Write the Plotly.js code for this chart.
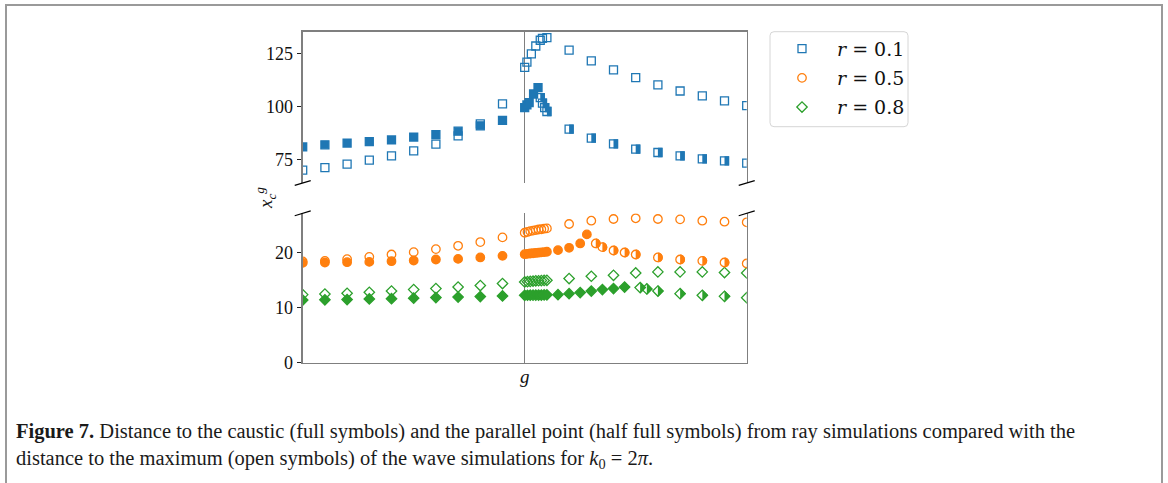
<!DOCTYPE html>
<html>
<head>
<meta charset="utf-8">
<script src="https://cdn.plot.ly/plotly-3.0.1.min.js"></script>
<style>
  html, body { margin: 0; padding: 0; background: #ffffff; }
  #chart { width: 1168px; height: 483px; }
</style>
</head>
<body>
<div id="chart"></div>
<script>
// ---- r = 0.1 (upper panel) ----
const waveX01   = [-10, -9, -8, -7, -6, -5, -4, -3, -2, -1, 0, 0.1, 0.3, 0.5, 0.7, 0.8, 1, 2, 3, 4, 5, 6, 7, 8, 9, 10];
const waveY01   = [70.2, 71.4, 73.0, 74.9, 76.9, 79.3, 82.4, 86.3, 91.9, 101.3, 118.4, 120.8, 124.7, 128.4, 131.1, 132.0, 132.3, 126.5, 121.4, 117.2, 113.6, 110.2, 107.3, 105.0, 102.7, 100.5];
const causticX01 = [-10, -9, -8, -7, -6, -5, -4, -3, -2, -1, 0, 0.1, 0.2, 0.4, 0.6];
const causticY01 = [81.1, 82.1, 82.9, 83.6, 84.4, 85.7, 86.9, 88.5, 91.0, 93.5, 99.5, 100.8, 101.9, 105.9, 108.9];
const parallelX01 = [0.7, 0.8, 0.9, 1, 2, 3, 4, 5, 6, 7, 8, 9, 10];
const parallelY01 = [104.2, 101.6, 99.5, 97.7, 89.4, 85.2, 82.5, 80.1, 78.5, 76.9, 75.5, 74.6, 73.5];

// ---- r = 0.5 (lower panel) ----
const waveX05   = [-10, -9, -8, -7, -6, -5, -4, -3, -2, -1, 0, 0.125, 0.25, 0.375, 0.5, 0.625, 0.75, 0.875, 1, 2, 3, 4, 5, 6, 7, 8, 9, 10];
const waveY05   = [18.43, 18.54, 18.85, 19.27, 19.70, 20.13, 20.68, 21.28, 21.96, 22.81, 23.66, 23.8, 23.95, 24.05, 24.15, 24.25, 24.3, 24.4, 24.45, 25.25, 25.85, 26.16, 26.29, 26.16, 26.1, 25.85, 25.67, 25.56];
const causticX05 = [-10, -9, -8, -7, -6, -5, -4, -3, -2, -1, 0, 0.125, 0.25, 0.375, 0.5, 0.625, 0.75, 0.875, 1, 1.5, 2, 2.5, 2.8];
const causticY05 = [18.17, 18.24, 18.30, 18.35, 18.48, 18.61, 18.79, 18.90, 19.16, 19.45, 19.76, 19.82, 19.88, 19.93, 19.98, 20.03, 20.08, 20.13, 20.2, 20.49, 20.92, 21.71, 23.36];
const parallelX05 = [3.2, 3.5, 4, 4.5, 5, 6, 7, 8, 9, 10];
const parallelY05 = [21.71, 21.04, 20.43, 20.06, 19.7, 19.16, 18.79, 18.54, 18.24, 18.06];

// ---- r = 0.8 (lower panel) ----
const waveX08   = [-10, -9, -8, -7, -6, -5, -4, -3, -2, -1, 0, 0.125, 0.25, 0.375, 0.5, 0.625, 0.75, 0.875, 1, 2, 3, 4, 5, 6, 7, 8, 9, 10];
const waveY08   = [12.39, 12.5, 12.63, 12.82, 13.05, 13.31, 13.49, 13.78, 14.04, 14.41, 14.70, 14.75, 14.8, 14.85, 14.9, 14.92, 14.95, 14.98, 15.0, 15.32, 15.74, 15.92, 16.34, 16.53, 16.53, 16.53, 16.42, 16.34];
const causticX08 = [-10, -9, -8, -7, -6, -5, -4, -3, -2, -1, 0, 0.125, 0.25, 0.375, 0.5, 0.625, 0.75, 0.875, 1, 1.5, 2, 2.5, 3, 3.5, 4, 4.5];
const causticY08 = [11.4, 11.45, 11.5, 11.6, 11.65, 11.75, 11.85, 11.95, 12.05, 12.15, 12.27, 12.28, 12.29, 12.3, 12.3, 12.31, 12.32, 12.33, 12.35, 12.39, 12.57, 12.76, 13.05, 13.31, 13.49, 13.78];
const parallelX08 = [5.2, 5.5, 6, 7, 8, 9, 10];
const parallelY08 = [13.67, 13.42, 13.05, 12.57, 12.27, 12.08, 11.84];

// ---- text ----
const legendNames = ['<i>r</i> = 0.1', '<i>r</i> = 0.5', '<i>r</i> = 0.8'];
const topTicks = [75, 100, 125];
const bottomTicks = [0, 10, 20];
const xTickVals = [0];
const xTickText = ['<i>g</i>'];
const yTitle = '<i>x</i><sub><i>c</i></sub><sup><i>g</i></sup>';
const captionLine1 = '<b>Figure 7.</b> Distance to the caustic (full symbols) and the parallel point (half full symbols) from ray simulations compared with the';
const captionLine2 = 'distance to the maximum (open symbols) of the wave simulations for <i>k</i><sub>0</sub> = 2<i>π</i>.';

// ---- styling ----
const BLUE = '#1f77b4', ORANGE = '#ff7f0e', GREEN = '#2ca02c';
const SPINE = '#7f7f7f';
const SERIF = 'Liberation Serif, DejaVu Serif, serif';
const W = 1168, H = 483;
const xDom = [302.7 / W, 746.7 / W];
const topDom = [(H - 183) / H, (H - 31.7) / H];
const botDom = [(H - 362.7) / H, (H - 213.3) / H];

const series = [
  {color: BLUE,   open: 'square-open',  fill: 'square',  size: 8,   ax: ['x2', 'y2'],
   wave: [waveX01, waveY01], caustic: [causticX01, causticY01], parallel: [parallelX01, parallelY01],
   half: 'M0,-4.65 L4.65,-4.65 L4.65,4.65 L0,4.65 Z'},
  {color: ORANGE, open: 'circle-open',  fill: 'circle',  size: 8.5, ax: ['x', 'y'],
   wave: [waveX05, waveY05], caustic: [causticX05, causticY05], parallel: [parallelX05, parallelY05],
   half: 'M0,-4.9 C2.7,-4.9 4.9,-2.7 4.9,0 C4.9,2.7 2.7,4.9 0,4.9 Z'},
  {color: GREEN,  open: 'diamond-open', fill: 'diamond', size: 8,   ax: ['x', 'y'],
   wave: [waveX08, waveY08], caustic: [causticX08, causticY08], parallel: [parallelX08, parallelY08],
   half: 'M0,-5.9 L5.9,0 L0,5.9 Z'}
];

const traces = [];
// open symbols (wave maxima) first, they carry the legend
series.forEach((s, i) => {
  traces.push({
    type: 'scatter', mode: 'markers', name: legendNames[i], legendgroup: 'g' + i,
    x: s.wave[0], y: s.wave[1], xaxis: s.ax[0], yaxis: s.ax[1],
    marker: {symbol: s.open, size: s.size, color: s.color, line: {width: 1.3, color: s.color}},
    cliponaxis: true, hoverinfo: 'x+y'
  });
});
// full symbols (caustic)
series.forEach((s, i) => {
  traces.push({
    type: 'scatter', mode: 'markers', showlegend: false,
    x: s.caustic[0], y: s.caustic[1], xaxis: s.ax[0], yaxis: s.ax[1],
    marker: {symbol: s.fill, size: s.size, color: s.color, line: {width: 1.3, color: s.color}},
    cliponaxis: true, hoverinfo: 'x+y'
  });
});
// half full symbols (parallel point): outline here, right half filled by shapes below
series.forEach((s, i) => {
  traces.push({
    type: 'scatter', mode: 'markers', showlegend: false,
    x: s.parallel[0], y: s.parallel[1], xaxis: s.ax[0], yaxis: s.ax[1],
    marker: {symbol: s.open, size: s.size, color: s.color, line: {width: 1.3, color: s.color}},
    cliponaxis: true, hoverinfo: 'x+y'
  });
});

const shapes = [];
// half fill for parallel-point markers, anchored at each data point
series.forEach(s => {
  s.parallel[0].forEach((xv, k) => {
    shapes.push({
      type: 'path', xref: s.ax[0], yref: s.ax[1],
      xsizemode: 'pixel', ysizemode: 'pixel',
      xanchor: xv, yanchor: s.parallel[1][k],
      path: s.half, fillcolor: s.color, line: {width: 0}, layer: 'above'
    });
  });
});
// diagonal break marks on the split y axis
[[xDom[0], topDom[0]], [xDom[1], topDom[0]], [xDom[0], botDom[1]], [xDom[1], botDom[1]]].forEach(p => {
  shapes.push({
    type: 'line', xref: 'paper', yref: 'paper',
    xsizemode: 'pixel', ysizemode: 'pixel', xanchor: p[0], yanchor: p[1],
    x0: -8, x1: 8, y0: -2.4, y1: 2.4,
    line: {color: '#000000', width: 1.1}, layer: 'above'
  });
});
// rounded frame behind the legend entries
const lgL = 770, lgR = 908, lgT = 31.7, lgB = 126.7, rad = 4;
const lw = lgR - lgL, lh = lgB - lgT;
shapes.push({
  type: 'path', xref: 'paper', yref: 'paper',
  xsizemode: 'pixel', ysizemode: 'pixel', xanchor: lgL / W, yanchor: 1 - lgT / H,
  path: 'M' + rad + ',0 L' + (lw - rad) + ',0 Q' + lw + ',0 ' + lw + ',' + (-rad) +
        ' L' + lw + ',' + (-lh + rad) + ' Q' + lw + ',' + (-lh) + ' ' + (lw - rad) + ',' + (-lh) +
        ' L' + rad + ',' + (-lh) + ' Q0,' + (-lh) + ' 0,' + (-lh + rad) +
        ' L0,' + (-rad) + ' Q0,0 ' + rad + ',0 Z',
  line: {color: '#d6d6d6', width: 1}, fillcolor: '#ffffff', layer: 'below'
});
// frame round the whole figure
shapes.push({
  type: 'rect', xref: 'paper', yref: 'paper',
  x0: 6 / W, x1: 1162 / W, y0: -0.05, y1: 1 - 5 / H,
  line: {color: '#9a9a9a', width: 2}, fillcolor: 'rgba(0,0,0,0)', layer: 'above'
});

const tickFont = {family: SERIF, size: 18, color: '#111111'};
const yCommon = {
  showline: true, linecolor: SPINE, linewidth: 1.6, mirror: true,
  ticks: 'outside', ticklen: 4.5, tickwidth: 1, tickcolor: '#222222',
  showgrid: false, zeroline: false, tickfont: tickFont, automargin: false
};
const xCommon = {
  range: [-10, 10], showgrid: false,
  zeroline: true, zerolinecolor: SPINE, zerolinewidth: 1.5,
  showline: true, linecolor: SPINE, linewidth: 1.6, mirror: false, automargin: false
};

const layout = {
  width: W, height: H,
  margin: {l: 0, r: 0, t: 0, b: 0},
  paper_bgcolor: '#ffffff', plot_bgcolor: '#ffffff',
  showlegend: true,
  legend: {
    x: 767 / W, y: 1 - 29.8 / H, xanchor: 'left', yanchor: 'top',
    borderwidth: 0, bgcolor: 'rgba(0,0,0,0)',
    font: {family: 'DejaVu Serif, Liberation Serif, serif', size: 19, color: '#111111'},
    tracegroupgap: 1.5, itemwidth: 60
  },
  xaxis: Object.assign({}, xCommon, {
    domain: xDom, anchor: 'y', side: 'bottom',
    tickmode: 'array', tickvals: xTickVals, ticktext: xTickText,
    ticks: '', ticklabelstandoff: -4, tickfont: {family: SERIF, size: 19, color: '#111111'}
  }),
  yaxis: Object.assign({}, yCommon, {
    domain: botDom, anchor: 'x', range: [0, 27.2],
    tickmode: 'array', tickvals: bottomTicks
  }),
  xaxis2: Object.assign({}, xCommon, {
    domain: xDom, anchor: 'y2', side: 'top', matches: 'x',
    showticklabels: false, ticks: ''
  }),
  yaxis2: Object.assign({}, yCommon, {
    domain: topDom, anchor: 'x2', range: [64.2, 135.1],
    tickmode: 'array', tickvals: topTicks
  }),
  shapes: shapes,
  annotations: [
    {text: yTitle, xref: 'paper', yref: 'paper', x: 265 / W, y: 1 - 198 / H,
     xanchor: 'center', yanchor: 'middle', textangle: -90, showarrow: false,
     font: {family: SERIF, size: 19, color: '#111111'}},
    {text: captionLine1, xref: 'paper', yref: 'paper', x: 14 / W, y: 1 - 431 / H,
     xanchor: 'left', yanchor: 'middle', showarrow: false, align: 'left',
     font: {family: SERIF, size: 20.5, color: '#1a1a1a'}},
    {text: captionLine2, xref: 'paper', yref: 'paper', x: 14 / W, y: 1 - 459 / H,
     xanchor: 'left', yanchor: 'middle', showarrow: false, align: 'left',
     font: {family: SERIF, size: 20.5, color: '#1a1a1a'}}
  ]
};

Plotly.newPlot('chart', traces, layout, {displayModeBar: false, staticPlot: true});
</script>
</body>
</html>
